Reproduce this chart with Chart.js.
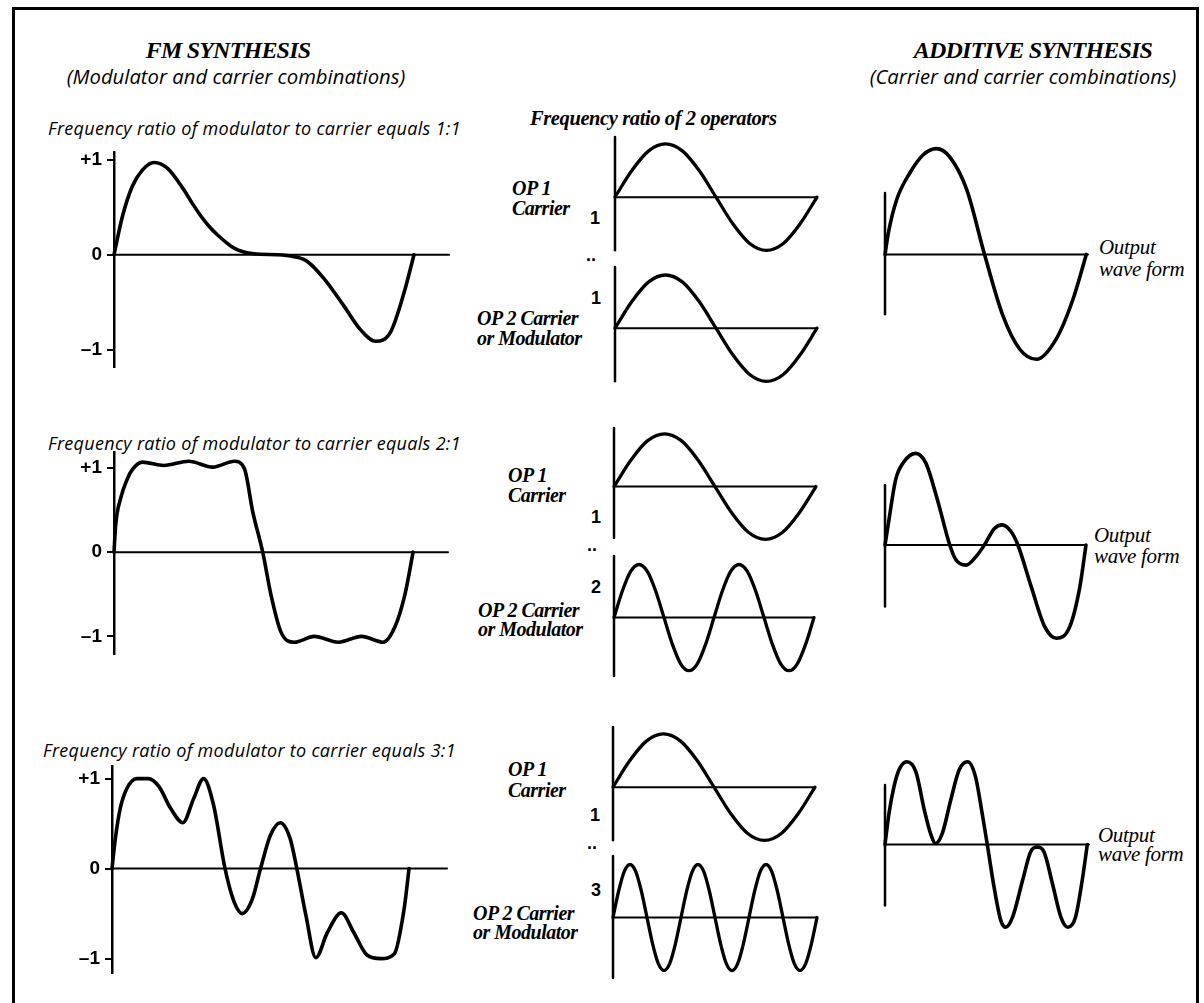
<!DOCTYPE html>
<html lang="en">
<head>
<meta charset="UTF-8">
<title>FM synthesis / Additive synthesis</title>
<script src="https://cdn.jsdelivr.net/npm/chart.js"></script>
<style>
    body { margin: 0; background: #fff; }
    .page { position: relative; width: 1204px; height: 1003px; overflow: hidden; background: #fff; }
    .frame { position: absolute; left: 12px; top: 7px; width: 1187px; height: 1000px; border: 3px solid #000; border-bottom: none; box-sizing: border-box; }
    canvas { position: absolute; }
    .lbl { position: absolute; white-space: nowrap; color: #000; line-height: 1; transform: translateY(-50%); }
    .mid { transform: translate(-50%, -50%); }
    .title { font: italic bold 24px "Liberation Serif"; letter-spacing: -0.8px; }
    .sub { font: italic 20.3px "Open Sans"; }
    .ratio { font: italic 18px "Open Sans"; letter-spacing: 0.3px; }
    .head { font: italic bold 20.5px "Liberation Serif"; letter-spacing: -0.4px; }
    .ops { font: italic bold 20px "Liberation Serif"; letter-spacing: -0.5px; }
    .num { font: bold 18px "Liberation Sans"; }
    .out { font: italic 21px "Liberation Serif"; letter-spacing: -0.3px; }
</style>
</head>
<body>
<div class="page" id="page">
    <div class="frame"></div>
</div>
<script>
    // ---- data (phase of the carrier in degrees, amplitude) ----

    // FM synthesis, left column
    const fm1Phase = [0, 10, 22, 34, 48, 64, 84, 94, 104, 114, 124, 144, 168, 196, 216, 232, 252, 276, 296, 314, 332, 348, 360];
    const fm1Amp   = [0, 0.40, 0.72, 0.89, 0.97, 0.91, 0.68, 0.54, 0.41, 0.30, 0.21, 0.07, 0.01, 0, -0.02, -0.07, -0.25, -0.54, -0.79, -0.91, -0.81, -0.40, 0];

    const fm2Phase = [0, 2, 8, 16, 22, 34, 60, 90, 119, 145, 157, 167, 179, 189, 201, 217, 241, 270, 298, 324, 338, 350, 360];
    const fm2Amp   = [0, 0.32, 0.64, 0.87, 0.98, 1.07, 1.03, 1.08, 1.01, 1.08, 0.99, 0.48, 0, -0.51, -0.95, -1.07, -1.00, -1.07, -1.00, -1.07, -0.89, -0.51, 0];

    const fm3Phase = [0, 4, 10, 18, 30, 44, 57, 71, 86, 99, 111, 123, 137, 148, 158, 170, 180, 192, 204, 216, 224, 235, 247, 261, 278, 293, 309, 326, 342, 354, 360];
    const fm3Amp   = [0, 0.33, 0.67, 0.89, 1.0, 1.0, 0.91, 0.67, 0.51, 0.78, 1.0, 0.71, 0, -0.37, -0.50, -0.34, 0, 0.37, 0.51, 0.33, 0, -0.52, -0.99, -0.71, -0.49, -0.71, -0.96, -1.0, -0.95, -0.45, 0];

    const fmTicks = [-1, 0, 1];
    const fmTickLabels = ['\u20131', '0', '+1'];

    // operators, middle column
    const opOnePhase = [0, 30, 60, 90, 120, 150, 180, 210, 240, 270, 300, 330, 360];
    const opOneAmp   = [0, 0.5, 0.87, 1, 0.87, 0.5, 0, -0.5, -0.87, -1, -0.87, -0.5, 0];

    const opTwoPhase = [0, 15, 30, 45, 60, 75, 90, 105, 120, 135, 150, 165, 180, 195, 210, 225, 240, 255, 270, 285, 300, 315, 330, 345, 360];
    const opTwoAmp   = [0, 0.5, 0.87, 1, 0.87, 0.5, 0, -0.5, -0.87, -1, -0.87, -0.5, 0, 0.5, 0.87, 1, 0.87, 0.5, 0, -0.5, -0.87, -1, -0.87, -0.5, 0];

    const opThreePhase = [0, 10, 20, 30, 40, 50, 60, 70, 80, 90, 100, 110, 120, 130, 140, 150, 160, 170, 180, 190, 200, 210, 220, 230, 240, 250, 260, 270, 280, 290, 300, 310, 320, 330, 340, 350, 360];
    const opThreeAmp   = [0, 0.5, 0.87, 1, 0.87, 0.5, 0, -0.5, -0.87, -1, -0.87, -0.5, 0, 0.5, 0.87, 1, 0.87, 0.5, 0, -0.5, -0.87, -1, -0.87, -0.5, 0, 0.5, 0.87, 1, 0.87, 0.5, 0, -0.5, -0.87, -1, -0.87, -0.5, 0];

    // additive synthesis, right column (output wave form)
    const addOnePhase = [0, 6, 21, 45, 68, 92, 116, 146, 178, 211, 241, 271, 306, 336, 360];
    const addOneAmp   = [0, 0.41, 1.04, 1.55, 1.88, 2.0, 1.84, 1.23, 0, -1.16, -1.79, -1.98, -1.60, -0.85, 0];

    const addTwoPhase = [0, 7, 19, 34, 55, 73, 94, 116, 127, 145, 163, 178, 196, 210, 226, 238, 262, 286, 307, 331, 349, 360];
    const addTwoAmp   = [0, 0.47, 1.23, 1.57, 1.73, 1.55, 0.85, 0, -0.28, -0.38, -0.22, 0, 0.31, 0.38, 0.25, 0, -0.79, -1.54, -1.76, -1.54, -0.79, 0];

    const addThreePhase = [0, 7, 16, 25, 39, 55, 70, 81, 90, 102, 117, 132, 147, 161, 173, 182, 194, 206, 215, 227, 245, 259, 271, 283, 298, 313, 325, 339, 351, 360];
    const addThreeAmp   = [0, 0.58, 1.09, 1.41, 1.56, 1.37, 0.65, 0.21, 0.02, 0.21, 0.84, 1.41, 1.56, 1.28, 0.58, 0, -0.80, -1.43, -1.56, -1.37, -0.67, -0.14, -0.05, -0.14, -0.74, -1.37, -1.56, -1.37, -0.67, 0];

    // ---- layout of the panels (pixels) ----
    const PAD = 6;
    const AXIS_W = 58;

    const panels = [
        // left column
        { phase: fm1Phase, amp: fm1Amp, ticks: true, axisX: 113.5, endX: 448, zeroY: 255, unit: 95, yMin: -1.18, yMax: 1.08, xMax: 402, line: 3.6 },
        { phase: fm2Phase, amp: fm2Amp, ticks: true, axisX: 113.5, endX: 447, zeroY: 552, unit: 84, yMin: -1.21, yMax: 1.19, xMax: 402, line: 3.6 },
        { phase: fm3Phase, amp: fm3Amp, ticks: true, axisX: 112, endX: 447, zeroY: 869, unit: 90, yMin: -1.16, yMax: 1.14, xMax: 406, line: 3.6 },
        // middle column
        { phase: opOnePhase, amp: opOneAmp, axisX: 615, endX: 817, zeroY: 197, unit: 53, yMin: -1.05, yMax: 1.13, axMin: -1.0, axMax: 1.13, xMax: 360, line: 3.3 },
        { phase: opOnePhase, amp: opOneAmp, axisX: 615, endX: 817, zeroY: 328, unit: 53, yMin: -1.05, yMax: 1.15, axMin: -1.0, axMax: 1.15, xMax: 360, line: 3.3 },
        { phase: opOnePhase, amp: opOneAmp, axisX: 613.5, endX: 815, zeroY: 487, unit: 53, yMin: -1.05, yMax: 1.11, axMin: -0.97, axMax: 1.11, xMax: 360, line: 3.3 },
        { phase: opTwoPhase, amp: opTwoAmp, axisX: 613.5, endX: 813, zeroY: 617, unit: 53, yMin: -1.10, yMax: 1.16, axMin: -1.10, axMax: 1.16, xMax: 360, line: 3.3 },
        { phase: opOnePhase, amp: opOneAmp, axisX: 613, endX: 815, zeroY: 787, unit: 53, yMin: -1.05, yMax: 1.13, axMin: -1.0, axMax: 1.13, xMax: 360, line: 3.3 },
        { phase: opThreePhase, amp: opThreeAmp, axisX: 613, endX: 817, zeroY: 917, unit: 53, yMin: -1.14, yMax: 1.16, axMin: -1.14, axMax: 1.16, xMax: 360, line: 3.3 },
        // right column
        { phase: addOnePhase, amp: addOneAmp, axisX: 885, endX: 1088, zeroY: 255, unit: 53, yMin: -2.05, yMax: 2.05, axMin: -1.13, axMax: 1.16, xMax: 363, line: 3.6 },
        { phase: addTwoPhase, amp: addTwoAmp, axisX: 884.5, endX: 1085, zeroY: 545, unit: 53, yMin: -1.85, yMax: 1.85, axMin: -1.16, axMax: 1.13, xMax: 360, line: 3.6 },
        { phase: addThreePhase, amp: addThreeAmp, axisX: 884.5, endX: 1088, zeroY: 844, unit: 53, yMin: -1.65, yMax: 1.65, axMin: -1.15, axMax: 1.12, xMax: 363, line: 3.6 }
    ];

    // text: [text, x, y (centre), class, centred]
    const labels = [
        ['FM SYNTHESIS', 228, 50, 'title', true],
        ['(Modulator and carrier combinations)', 236, 76, 'sub', true],
        ['ADDITIVE SYNTHESIS', 1033, 50, 'title', true],
        ['(Carrier and carrier combinations)', 1023, 76, 'sub', true],

        ['Frequency ratio of modulator to carrier equals 1:1', 48, 128, 'ratio'],
        ['Frequency ratio of modulator to carrier equals 2:1', 48, 443, 'ratio'],
        ['Frequency ratio of modulator to carrier equals 3:1', 43, 750, 'ratio'],
        ['Frequency ratio of 2 operators', 530, 118, 'head'],

        ['OP 1', 512, 188, 'ops'], ['Carrier', 512, 208, 'ops'],
        ['1', 590, 218, 'num'], ['..', 586, 255, 'num'], ['1', 591, 298, 'num'],
        ['OP 2 Carrier', 477, 318, 'ops'], ['or Modulator', 477, 338, 'ops'],

        ['OP 1', 508, 475, 'ops'], ['Carrier', 508, 495, 'ops'],
        ['1', 591, 517, 'num'], ['..', 587, 545, 'num'], ['2', 591, 587, 'num'],
        ['OP 2 Carrier', 478, 610, 'ops'], ['or Modulator', 478, 629, 'ops'],

        ['OP 1', 508, 769, 'ops'], ['Carrier', 508, 790, 'ops'],
        ['1', 590, 815, 'num'], ['..', 587, 843, 'num'], ['3', 591, 890, 'num'],
        ['OP 2 Carrier', 473, 913, 'ops'], ['or Modulator', 473, 932, 'ops'],

        ['Output', 1099, 247, 'out'], ['wave form', 1099, 269, 'out'],
        ['Output', 1094, 535, 'out'], ['wave form', 1094, 556, 'out'],
        ['Output', 1098, 835, 'out'], ['wave form', 1098, 854, 'out']
    ];

    const page = document.getElementById('page');

    labels.forEach(function (l) {
        let d = document.createElement('div');
        d.className = 'lbl ' + l[3] + (l[4] ? ' mid' : '');
        d.textContent = l[0];
        d.style.left = l[1] + 'px';
        d.style.top = l[2] + 'px';
        page.appendChild(d);
    });

    function desenharPainel(p) {
        let axW = p.ticks ? AXIS_W : 0;
        let left = Math.round(p.axisX - PAD - axW);
        let top = Math.round(p.zeroY - p.yMax * p.unit - PAD);
        let w = Math.round(p.endX - p.axisX + 2 * PAD + axW);
        let h = Math.round((p.yMax - p.yMin) * p.unit + 2 * PAD);

        let cv = document.createElement('canvas');
        cv.width = w;
        cv.height = h;
        cv.style.left = left + 'px';
        cv.style.top = top + 'px';
        cv.style.width = w + 'px';
        cv.style.height = h + 'px';
        page.appendChild(cv);

        let curva = p.phase.map(function (x, i) { return { x: x, y: p.amp[i] }; });

        let datasets = [
            { data: curva, borderColor: '#000', borderWidth: p.line, cubicInterpolationMode: 'monotone', clip: false },
            { data: [{ x: 0, y: 0 }, { x: p.xMax, y: 0 }], borderColor: '#000', borderWidth: 2, clip: false }
        ];
        if (!p.ticks) {
            datasets.push({ data: [{ x: 0, y: p.axMin }, { x: 0, y: p.axMax }], borderColor: '#000', borderWidth: 2.5, clip: false });
        }

        new Chart(cv, {
            type: 'line',
            data: { datasets: datasets },
            options: {
                responsive: false,
                animation: false,
                devicePixelRatio: 1,
                layout: { padding: PAD },
                elements: { point: { radius: 0 }, line: { borderCapStyle: 'round', borderJoinStyle: 'round' } },
                plugins: { legend: { display: false }, tooltip: { enabled: false } },
                scales: {
                    x: { type: 'linear', min: 0, max: p.xMax, display: false },
                    y: {
                        type: 'linear',
                        min: p.yMin,
                        max: p.yMax,
                        display: !!p.ticks,
                        afterFit: function (s) {
                            // fixed width, and no extra room for the tick labels at the ends
                            s.width = axW;
                            s.paddingTop = 0;
                            s.paddingBottom = 0;
                        },
                        afterBuildTicks: function (s) { s.ticks = fmTicks.map(function (v) { return { value: v }; }); },
                        ticks: {
                            color: '#000',
                            padding: 5,
                            font: { family: 'Liberation Sans', weight: 'bold', size: 19 },
                            callback: function (v) { return fmTickLabels[fmTicks.indexOf(v)]; }
                        },
                        grid: { drawOnChartArea: false, drawTicks: true, tickLength: 7, color: '#000', lineWidth: 2 },
                        border: { display: true, color: '#000', width: 2.5 }
                    }
                }
            }
        });
    }

    panels.forEach(desenharPainel);
</script>
</body>
</html>
